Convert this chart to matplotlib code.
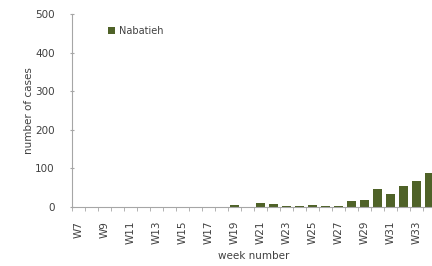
import matplotlib
matplotlib.use("Agg")
import matplotlib.pyplot as plt
import numpy as np

# weekly cases, Nabatieh
weeks = ["W%d" % w for w in range(7, 35)]
cases = [0, 0, 0, 0, 0, 0, 0, 0, 0, 0, 0, 0,
         6, 1, 10, 7, 3, 3, 6, 3, 2, 16, 18, 46, 34, 54, 67, 88]

bar_color = "#4f6228"
axis_color = "#a6a6a6"

fig = plt.figure(figsize=(4.32, 2.66), dpi=100)
ax = fig.add_axes([72 / 432, 59 / 266, 364 / 432, 193 / 266])

x = np.arange(len(weeks))
ax.bar(x, cases, width=0.7, color=bar_color, label="Nabatieh")

ax.set_xlim(-0.5, len(weeks) - 0.5)
ax.set_ylim(0, 500)
ax.set_yticks([0, 100, 200, 300, 400, 500])
ax.set_xticks(x[::2])
ax.set_xticklabels(weeks[::2], rotation=90)
ax.set_xticks(np.arange(len(weeks) + 1) - 0.5, minor=True)

for s in ["top", "right"]:
    ax.spines[s].set_visible(False)
ax.spines["left"].set_color(axis_color)
ax.spines["bottom"].set_color(axis_color)
ax.tick_params(axis="y", colors=axis_color, labelcolor="#404040", labelsize=7.5,
               length=3, direction="inout", pad=11)
ax.tick_params(axis="x", which="major", length=0, labelcolor="#404040",
               labelsize=7.5, pad=10)
ax.tick_params(axis="x", which="minor", colors=axis_color, length=3)

ax.set_xlabel("week number", fontsize=7.5, color="#404040", labelpad=5)
ax.set_ylabel("number of cases", fontsize=7.5, color="#404040", labelpad=1)

ax.legend(loc="upper left", bbox_to_anchor=(0.075, 0.985), frameon=False,
          fontsize=7, handlelength=0.7, handleheight=0.7, handletextpad=0.4,
          labelcolor="#404040")

fig.savefig("out.png", dpi=100)
